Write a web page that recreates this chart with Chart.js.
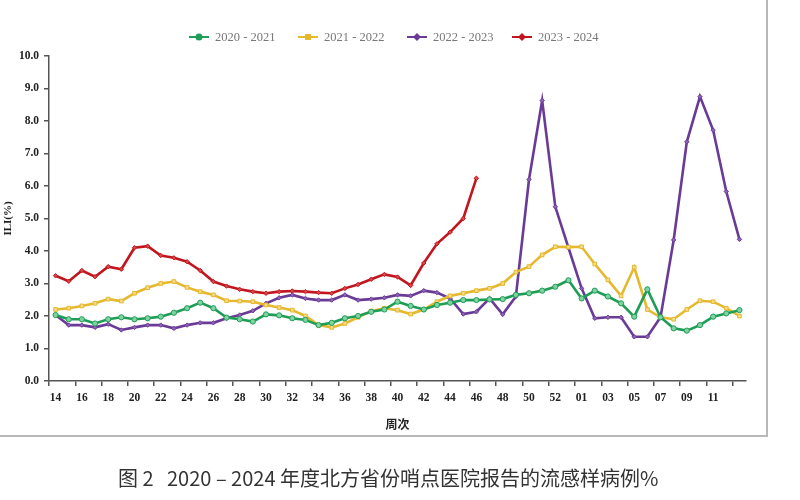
<!DOCTYPE html>
<html>
<head>
<meta charset="utf-8">
<script src="https://cdn.jsdelivr.net/npm/chart.js@4/dist/chart.umd.min.js"></script>
<style>
  body { margin: 0; background: #fff; }
  #wrap { position: relative; width: 800px; height: 500px; }
  #frame { position: absolute; left: -2px; top: -2px; width: 768px; height: 437px; border-right: 2px solid #b8b8b8; border-bottom: 2px solid #b8b8b8; }
  #caption { position: absolute; left: 118px; top: 463px; font-family: "Noto Sans CJK SC", sans-serif; font-size: 20px; color: #333; white-space: pre; }
</style>
</head>
<body>
<div id="wrap">
  <canvas id="iliChart" width="800" height="500"></canvas>
  <div id="frame"></div>
  <div id="caption">图 2   2020 – 2024 年度北方省份哨点医院报告的流感样病例%</div>
</div>
<script>
// weeks: 14..53 then 01..13
var weeks = ['14','15','16','17','18','19','20','21','22','23','24','25','26','27','28','29','30','31','32','33',
  '34','35','36','37','38','39','40','41','42','43','44','45','46','47','48','49','50','51','52','53',
  '01','02','03','04','05','06','07','08','09','10','11','12','13'];

// only these week labels are printed on the axis
var shownWeeks = ['14','16','18','20','22','24','26','28','30','32','34','36','38','40','42','44','46','48','50','52',
  '01','03','05','07','09','11'];

var yTicks = ['0.0','1.0','2.0','3.0','4.0','5.0','6.0','7.0','8.0','9.0','10.0'];

var ili2020 = [2.03,1.90,1.90,1.77,1.90,1.96,1.90,1.93,1.98,2.10,2.24,2.41,2.24,1.95,1.90,1.83,2.05,2.02,1.93,1.88,
  1.72,1.79,1.93,2.00,2.13,2.20,2.44,2.31,2.20,2.34,2.41,2.49,2.49,2.51,2.52,2.65,2.70,2.78,2.90,3.10,
  2.54,2.78,2.60,2.39,1.98,2.82,1.96,1.62,1.55,1.72,1.98,2.08,2.18];

var ili2021 = [2.20,2.24,2.31,2.39,2.52,2.46,2.70,2.87,3.00,3.06,2.88,2.75,2.65,2.47,2.46,2.44,2.34,2.26,2.18,2.00,
  1.72,1.65,1.77,1.96,2.15,2.24,2.18,2.06,2.20,2.44,2.62,2.70,2.78,2.85,3.00,3.35,3.52,3.88,4.13,4.12,
  4.13,3.60,3.11,2.62,3.50,2.20,1.96,1.90,2.20,2.47,2.44,2.24,2.00];

var ili2022 = [2.03,1.72,1.72,1.65,1.75,1.57,1.65,1.72,1.72,1.62,1.72,1.79,1.79,1.93,2.03,2.16,2.39,2.56,2.65,2.54,
  2.49,2.49,2.65,2.49,2.52,2.56,2.65,2.62,2.78,2.72,2.54,2.06,2.13,2.54,2.05,2.60,6.20,8.63,5.36,4.10,
  2.85,1.93,1.96,1.96,1.36,1.36,1.96,4.34,7.36,8.75,7.72,5.83,4.36];

var ili2023 = [3.24,3.07,3.40,3.21,3.52,3.44,4.10,4.15,3.86,3.79,3.67,3.40,3.06,2.92,2.82,2.75,2.70,2.75,2.77,2.75,
  2.72,2.70,2.85,2.97,3.13,3.28,3.20,2.94,3.63,4.22,4.58,5.00,6.24];

var seasonNames = ['2020 - 2021', '2021 - 2022', '2022 - 2023', '2023 - 2024'];
var lineColors = ['#1f9d57', '#e6b82e', '#6a3a97', '#c1161e'];
var pointFills = ['#7fd3a0', '#f3dc8a', '#8d64b8', '#d9474d'];
var pointShapes = ['circle', 'rect', 'rectRot', 'rectRot'];
var seriesList = [ili2020, ili2021, ili2022, ili2023];

var datasets = seriesList.map(function(vals, i) {
  return {
    label: seasonNames[i],
    data: vals,
    borderColor: lineColors[i],
    backgroundColor: pointFills[i],
    borderWidth: 2.6,
    pointStyle: pointShapes[i],
    pointRadius: i < 2 ? 2.6 : 2.2,
    pointBorderWidth: 1,
    pointBorderColor: lineColors[i],
    pointBackgroundColor: pointFills[i],
    tension: 0,
    fill: false
  };
});

// custom legend: short line with marker, then text
var legendPlugin = {
  id: 'seasonLegend',
  afterDraw: function(chart) {
    var ctx = chart.ctx;
    var starts = [199, 308, 417, 522];
    ctx.save();
    ctx.font = '12.5px "Liberation Serif", serif';
    ctx.textBaseline = 'middle';
    for (var i = 0; i < seasonNames.length; i++) {
      var cx = starts[i], cy = 37;
      ctx.strokeStyle = lineColors[i];
      ctx.lineWidth = 2;
      ctx.beginPath();
      ctx.moveTo(cx - 10, cy);
      ctx.lineTo(cx + 10, cy);
      ctx.stroke();
      ctx.fillStyle = lineColors[i];
      ctx.beginPath();
      if (pointShapes[i] === 'circle') {
        ctx.arc(cx, cy, 3.5, 0, Math.PI * 2);
      } else if (pointShapes[i] === 'rect') {
        ctx.rect(cx - 3, cy - 3, 6, 6);
      } else {
        ctx.moveTo(cx, cy - 4); ctx.lineTo(cx + 4, cy); ctx.lineTo(cx, cy + 4); ctx.lineTo(cx - 4, cy); ctx.closePath();
      }
      ctx.fill();
      ctx.fillStyle = '#777';
      ctx.fillText(seasonNames[i], cx + 16, cy + 1);
    }
    ctx.restore();
  }
};

var ctx = document.getElementById('iliChart').getContext('2d');
var iliChart = new Chart(ctx, {
  type: 'line',
  data: { labels: weeks, datasets: datasets },
  plugins: [legendPlugin],
  options: {
    responsive: false,
    animation: false,
    layout: { padding: { top: 56, right: 54, bottom: 68, left: 0 } },
    plugins: {
      legend: { display: false },
      tooltip: { enabled: false }
    },
    scales: {
      x: {
        type: 'category',
        offset: true,
        afterFit: function(scale) { scale.height = 51; },
        border: { color: '#555', width: 1.5 },
        grid: {
          offset: true,
          drawOnChartArea: false,
          drawTicks: true,
          tickLength: 5,
          lineWidth: 1.5,
          color: function(c) { return c.index % 2 === 0 ? '#555' : 'rgba(0,0,0,0)'; }
        },
        ticks: {
          autoSkip: false,
          maxRotation: 0,
          padding: 5,
          color: '#222',
          font: { family: '"Liberation Serif", serif', size: 11.5, weight: 'bold' },
          callback: function(v, i) { return shownWeeks.indexOf(weeks[i]) >= 0 ? weeks[i] : ''; }
        },
        title: {
          display: true,
          text: '周次',
          color: '#222',
          padding: { top: 0, bottom: 0 },
          font: { family: '"Noto Sans CJK SC", serif', size: 12, weight: 'bold' }
        }
      },
      y: {
        min: 0,
        max: 10,
        afterFit: function(scale) { scale.width = 49; },
        border: { color: '#555', width: 1.5 },
        grid: { drawOnChartArea: false, drawTicks: true, tickLength: 5, color: '#555', lineWidth: 1.5 },
        ticks: {
          stepSize: 1,
          padding: 5,
          color: '#222',
          font: { family: '"Liberation Serif", serif', size: 11.5, weight: 'bold' },
          callback: function(v) { return yTicks[v]; }
        },
        title: {
          display: true,
          text: 'ILI(%)',
          color: '#222',
          padding: { top: 2, bottom: 0 },
          font: { family: '"Liberation Serif", serif', size: 11, weight: 'bold' }
        }
      }
    }
  }
});
</script>
</body>
</html>
